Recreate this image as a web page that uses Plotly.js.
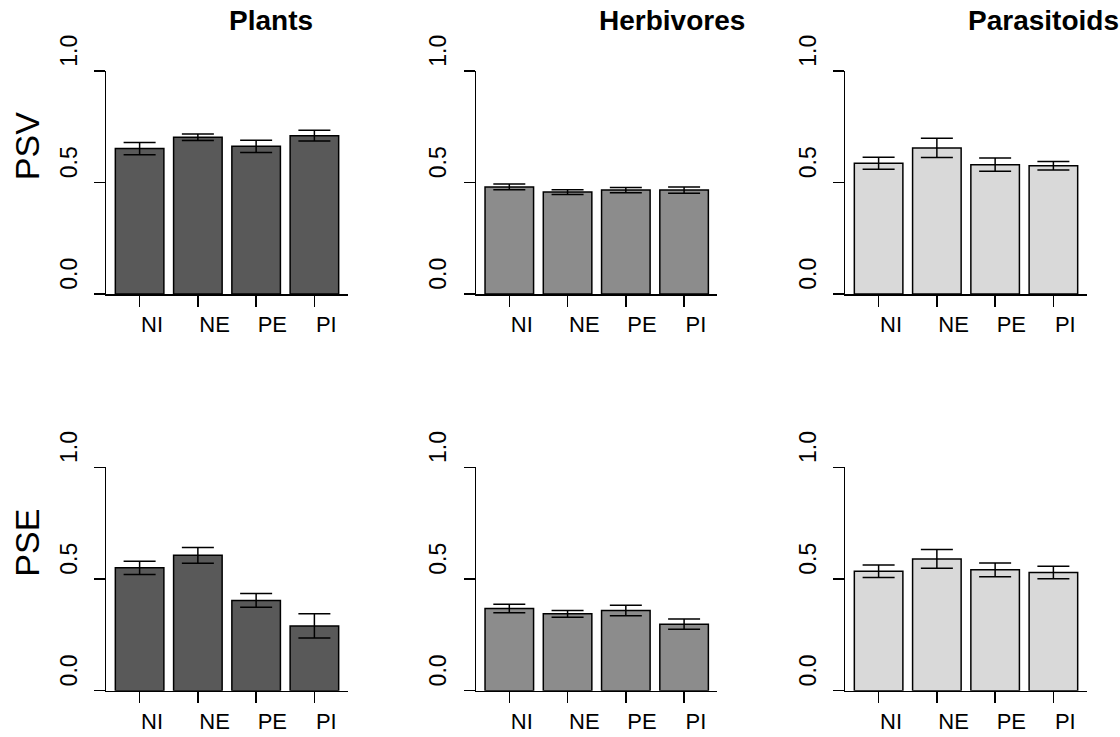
<!DOCTYPE html>
<html>
<head>
<meta charset="utf-8">
<script src="https://cdn.plot.ly/plotly-3.0.1.min.js"></script>
<style>html,body{margin:0;padding:0;background:#fff;}#chart{width:1120px;height:737px;}</style>
</head>
<body>
<div id="chart"></div>
<script>
// ---- data ----
const categories = ['NI', 'NE', 'PE', 'PI'];
const groups = ['Plants', 'Herbivores', 'Parasitoids'];
const metrics = ['PSV', 'PSE'];
const yTickVals = [0, 0.5, 1];
const yTickText = ['0.0', '0.5', '1.0'];

const plantsPSV = [0.652, 0.703, 0.662, 0.710];
const plantsPSVse = [0.027, 0.015, 0.027, 0.024];
const herbPSV = [0.480, 0.457, 0.466, 0.466];
const herbPSVse = [0.013, 0.011, 0.012, 0.014];
const paraPSV = [0.586, 0.655, 0.580, 0.575];
const paraPSVse = [0.027, 0.043, 0.030, 0.019];

const plantsPSE = [0.550, 0.606, 0.404, 0.290];
const plantsPSEse = [0.030, 0.035, 0.031, 0.054];
const herbPSE = [0.368, 0.344, 0.359, 0.298];
const herbPSEse = [0.019, 0.015, 0.023, 0.023];
const paraPSE = [0.535, 0.590, 0.541, 0.529];
const paraPSEse = [0.028, 0.042, 0.031, 0.028];

// ---- layout helpers ----
const W = 1120, H = 737;
const FONT = '"Liberation Sans", Arial, sans-serif';
const colors = ['#595959', '#8c8c8c', '#d9d9d9'];
const panelLeft = [106.4, 476.1, 845.4];
const panelWidth = 241.2;
const rowPix = [[294, 71], [690.7, 467.3]]; // [y of 0, y of 1]

const values = [[plantsPSV, herbPSV, paraPSV], [plantsPSE, herbPSE, paraPSE]];
const errors = [[plantsPSVse, herbPSVse, paraPSVse], [plantsPSEse, herbPSEse, paraPSEse]];

const data = [];
const layout = {
  width: W, height: H,
  margin: {l: 0, r: 0, t: 0, b: 0},
  paper_bgcolor: '#fff', plot_bgcolor: '#fff',
  showlegend: false,
  bargap: 1 - 1 / 1.2,
  font: {family: FONT, color: '#000', size: 22},
  annotations: []
};

let k = 0;
for (let r = 0; r < 2; r++) {
  for (let c = 0; c < 3; c++) {
    k++;
    const xa = 'x' + (k === 1 ? '' : k), ya = 'y' + (k === 1 ? '' : k);
    const xk = 'xaxis' + (k === 1 ? '' : k), yk = 'yaxis' + (k === 1 ? '' : k);
    data.push({
      type: 'bar', x: categories, y: values[r][c], xaxis: xa, yaxis: ya,
      marker: {color: colors[c], line: {color: '#000', width: 1.5}},
      error_y: {type: 'data', array: errors[r][c], visible: true, color: '#000', thickness: 1.5, width: 16},
      hoverinfo: 'x+y'
    });
    const x0 = panelLeft[c] / W, x1 = (panelLeft[c] + panelWidth) / W;
    const y0 = (H - rowPix[r][0]) / H, y1 = (H - rowPix[r][1]) / H;
    layout[xk] = {
      domain: [x0, x1], anchor: ya, type: 'category', range: [-0.57, 3.57],
      showline: true, linecolor: '#000', linewidth: 1.5,
      ticks: 'outside', ticklen: 11, tickwidth: 1.5, tickcolor: '#000',
      ticklabelposition: 'outside right', ticklabelstandoff: 10,
      tickfont: {family: FONT, size: 22, color: '#000'},
      showgrid: false, zeroline: false, fixedrange: true
    };
    layout[yk] = {
      domain: [y0, y1], anchor: xa, range: [0, 1],
      tickvals: yTickVals, ticktext: yTickText, tickangle: -90,
      ticklabelposition: 'outside top', ticklabelstandoff: 19,
      showline: true, linecolor: '#000', linewidth: 1.5,
      ticks: 'outside', ticklen: 10.5, tickwidth: 1.5, tickcolor: '#000',
      tickfont: {family: FONT, size: 23, color: '#000'},
      showgrid: false, zeroline: false, fixedrange: true
    };
    if (r === 0) {
      layout.annotations.push({
        text: '<b>' + groups[c] + '</b>', xref: 'paper', yref: 'paper',
        x: (panelLeft[c] + panelWidth / 2) / W, xanchor: 'left',
        y: (H - 21) / H, yanchor: 'middle', showarrow: false,
        font: {family: FONT, size: 28, color: '#000'}
      });
    }
    if (c === 0) {
      layout.annotations.push({
        text: metrics[r], xref: 'paper', yref: ya, x: 26.7 / W, xanchor: 'center',
        y: 0.5, yanchor: 'bottom', textangle: -90, showarrow: false,
        font: {family: FONT, size: 34, color: '#000'}
      });
    }
  }
}

Plotly.newPlot('chart', data, layout, {displayModeBar: false, staticPlot: true});
</script>
</body>
</html>
